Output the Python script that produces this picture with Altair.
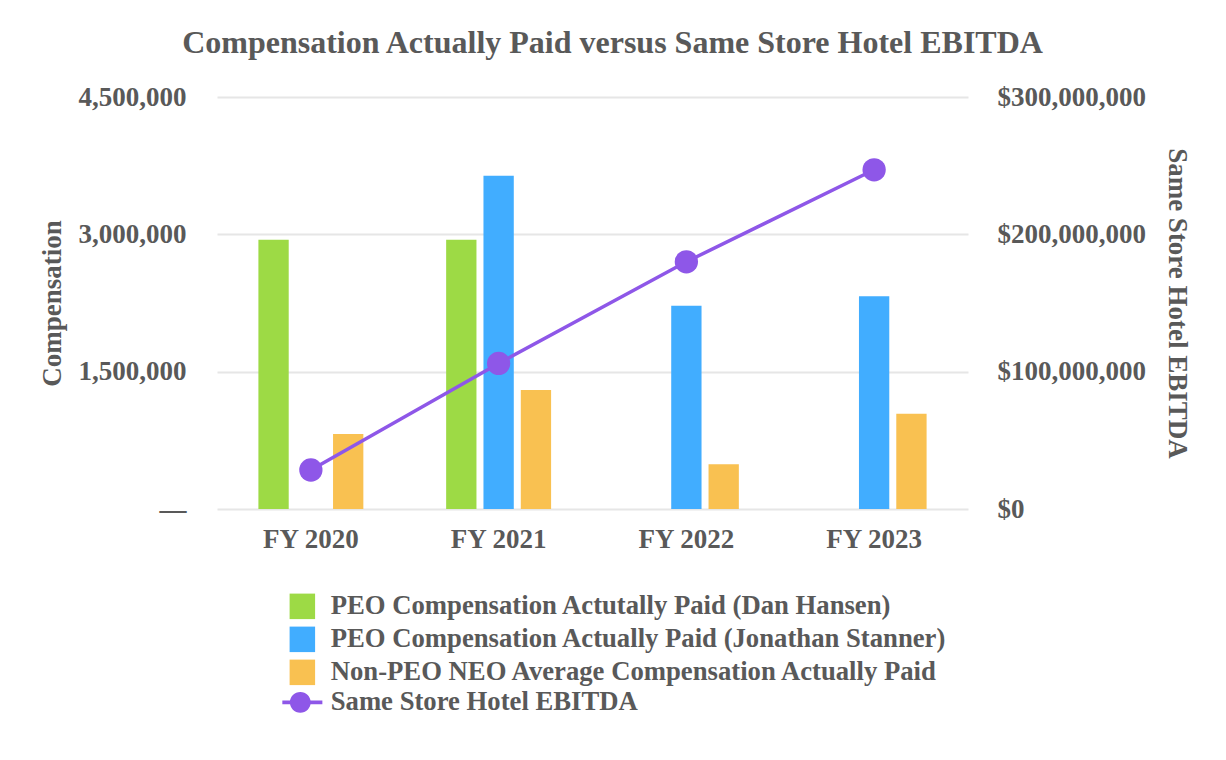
import altair as alt
import pandas as pd

# ---- data ----
years = ["FY 2020", "FY 2021", "FY 2022", "FY 2023"]
bar_series = [
    "PEO Compensation Actutally Paid (Dan Hansen)",
    "PEO Compensation Actually Paid (Jonathan Stanner)",
    "Non-PEO NEO Average Compensation Actually Paid",
]
line_series = "Same Store Hotel EBITDA"
hansen_cap = [2940000, 2940000, None, None]
stanner_cap = [None, 3640000, 2220000, 2325000]
non_peo_cap = [820000, 1300000, 490000, 1040000]
ebitda = [28400000, 106000000, 180000000, 247000000]
bar_colors = ["#9DDA45", "#41ADFF", "#F9C151"]
line_color = "#8E57E8"
comp_ticks = [0, 1500000, 3000000, 4500000]
ebitda_ticks = [0, 100000000, 200000000, 300000000]

FONT = "Liberation Serif"
TXT = "#595959"
FS = 27
LFS = 26.7

rows = []
for s, vals in zip(bar_series, [hansen_cap, stanner_cap, non_peo_cap]):
    for y, v in zip(years, vals):
        if v is not None:
            rows.append({"year": y, "series": s, "value": v})
bars_df = pd.DataFrame(rows)
line_df = pd.DataFrame({"year": years, "ebitda": ebitda, "name": [line_series] * len(years)})

x_enc = alt.X("year:N", sort=years,
              scale=alt.Scale(paddingInner=0.441, paddingOuter=0.2205),
              axis=alt.Axis(title=None, labelAngle=0, domain=False, ticks=False,
                            grid=False, labelPadding=17))

bars = alt.Chart(bars_df).mark_bar().encode(
    x=x_enc,
    xOffset=alt.XOffset("series:N", sort=bar_series,
                        scale=alt.Scale(domain=bar_series, paddingInner=0.1877, paddingOuter=0)),
    y=alt.Y("value:Q",
            scale=alt.Scale(domain=[0, 4500000], nice=False),
            axis=alt.Axis(values=comp_ticks, title="Compensation", domain=False, ticks=False,
                          labelPadding=31, titlePadding=12,
                          labelExpr="datum.value == 0 ? '—' : format(datum.value, ',')")),
    color=alt.Color("series:N", sort=bar_series,
                    scale=alt.Scale(domain=bar_series, range=bar_colors),
                    legend=alt.Legend(title=None, orient="none", legendX=72, legendY=496,
                                      direction="vertical", symbolType="square",
                                      symbolSize=650, symbolStrokeWidth=0,
                                      labelFont=FONT, labelFontSize=LFS, labelFontWeight="bold",
                                      labelColor=TXT, labelOffset=15, rowPadding=5,
                                      padding=0, labelLimit=1000)),
)

y_right = alt.Y("ebitda:Q",
                scale=alt.Scale(domain=[0, 300000000], nice=False),
                axis=alt.Axis(orient="right", values=ebitda_ticks, title="Same Store Hotel EBITDA",
                              domain=False, ticks=False, grid=False, labelPadding=29,
                              titlePadding=17,
                              labelExpr="'$' + format(datum.value, ',')"))

line = alt.Chart(line_df).mark_line(color=line_color, strokeWidth=3.5).encode(
    x=alt.X("year:N", sort=years),
    y=y_right,
)

legend_path = ("M-1.57,-0.14L1.57,-0.14L1.57,0.14L-1.57,0.14Z"
               "M0.66,0A0.82,0.82,0,1,1,-0.98,0A0.82,0.82,0,1,1,0.66,0Z")

points = alt.Chart(line_df).mark_point(filled=True, size=543, opacity=1, shape="circle").encode(
    x=alt.X("year:N", sort=years),
    y=alt.Y("ebitda:Q"),
    fill=alt.Fill("name:N",
                  scale=alt.Scale(domain=[line_series], range=[line_color]),
                  legend=alt.Legend(title=None, orient="none", legendX=72, legendY=592,
                                    symbolType=legend_path, symbolSize=650,
                                    symbolStrokeWidth=0, symbolFillColor=line_color,
                                    labelFont=FONT, labelFontSize=LFS, labelFontWeight="bold",
                                    labelColor=TXT, labelOffset=15, padding=0, labelLimit=1000)),
)

chart = alt.layer(bars, alt.layer(line, points)).resolve_scale(
    y="independent", fill="independent", color="independent"
).properties(
    width=751, height=412,
    title=alt.TitleParams("Compensation Actually Paid versus Same Store Hotel EBITDA",
                          font=FONT, fontSize=32, fontWeight="bold", color=TXT,
                          anchor="middle", dx=20, offset=23),
    autosize=alt.AutoSizeParams(type="none"),
    padding={"left": 209, "top": 89, "right": 250, "bottom": 243},
).configure_view(stroke=None).configure_axis(
    labelFont=FONT, labelFontSize=FS, labelFontWeight="bold", labelColor=TXT,
    titleFont=FONT, titleFontSize=FS, titleFontWeight="bold", titleColor=TXT,
    gridColor="#E6E6E6", gridWidth=2,
)

chart.save("out.html", embed_options={"renderer": "svg", "actions": False})
